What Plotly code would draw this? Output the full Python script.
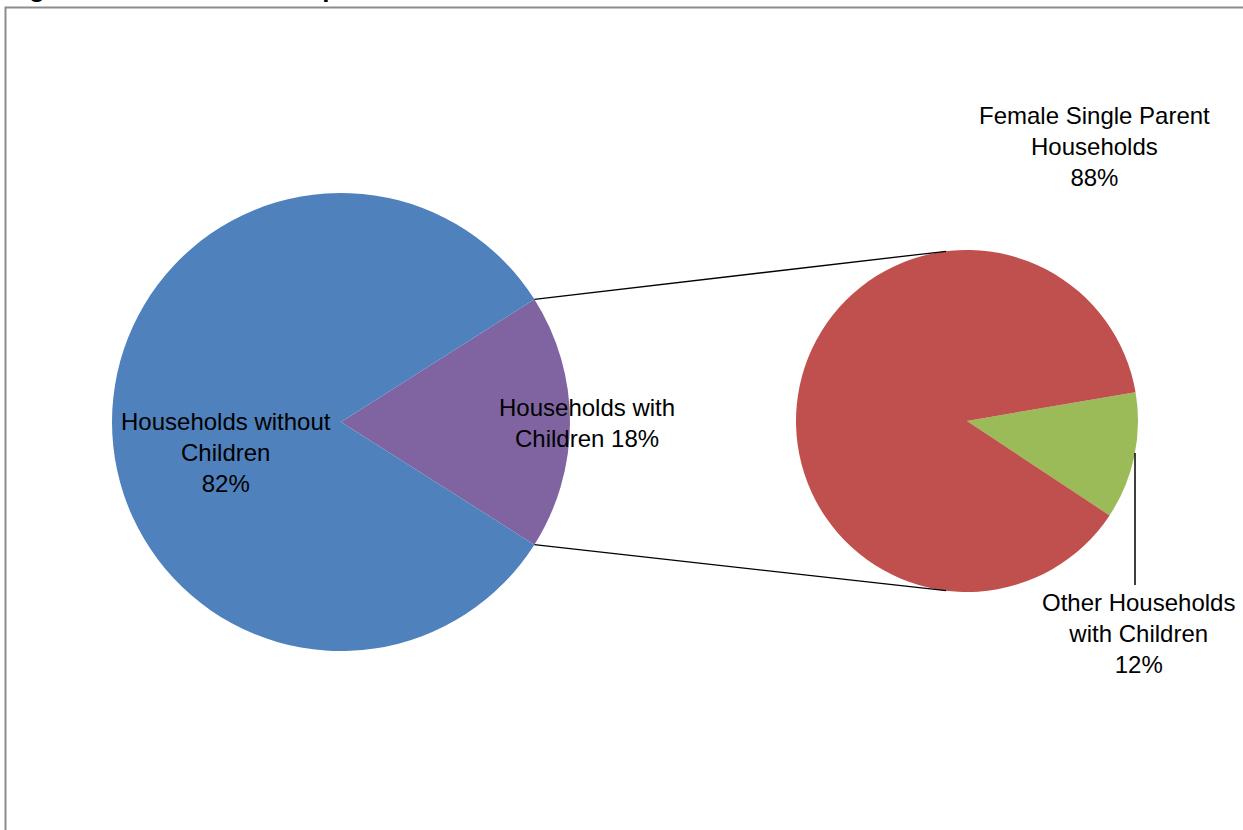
import math
import plotly.graph_objects as go

# ---- data ----
main_labels = ["Households with Children", "Households without Children"]
main_values = [18, 82]
sub_labels = ["Other Households with Children", "Female Single Parent Households"]
sub_values = [12, 88]
main_colors = ["#8064A2", "#4F81BD"]
sub_colors = ["#9BBB59", "#C0504D"]
title_text = "Figure 1: Household Composition"

W, H = 1243, 830
FONT = "Liberation Sans, Arial, sans-serif"

# pie geometry in pixels (center x, center y from top, radius)
L_CX, L_CY, L_R = 341, 422, 229
R_CX, R_CY, R_R = 967, 421, 171


def px(x):
    return x / W


def py(y):
    return 1 - y / H


def domain(cx, cy, r):
    return dict(x=[px(cx - r), px(cx + r)], y=[py(cy + r), py(cy - r)])


# main pie: first slice (with children) centred on 3 o'clock
half_main = main_values[0] / sum(main_values) * 360 / 2
main_rotation = 90 - half_main
# sub pie: small slice starting slightly above 3 o'clock
sub_start_deg = 9.7
sub_rotation = 90 - sub_start_deg

fig = go.Figure()
fig.add_trace(go.Pie(
    labels=main_labels, values=main_values, sort=False, direction="clockwise",
    rotation=main_rotation, marker=dict(colors=main_colors, line=dict(width=0)),
    textinfo="none", hoverinfo="label+percent", domain=domain(L_CX, L_CY, L_R),
    showlegend=False,
))
fig.add_trace(go.Pie(
    labels=sub_labels, values=sub_values, sort=False, direction="clockwise",
    rotation=sub_rotation, marker=dict(colors=sub_colors, line=dict(width=0)),
    textinfo="none", hoverinfo="label+percent", domain=domain(R_CX, R_CY, R_R),
    showlegend=False,
))

shapes = []
# connector lines from the main pie's small slice edges to the sub pie
for sgn in (1, -1):
    a = math.radians(half_main) * sgn
    x0 = L_CX + L_R * math.cos(a)
    y0 = L_CY - L_R * math.sin(a)
    b = math.radians(97) * sgn
    x1 = R_CX + R_R * math.cos(b)
    y1 = R_CY - R_R * math.sin(b)
    shapes.append(dict(type="line", xref="paper", yref="paper",
                       x0=px(x0), y0=py(y0), x1=px(x1), y1=py(y1),
                       line=dict(color="black", width=1.3)))

# leader line for the small slice of the sub pie
lead_x = 1135
dy = math.sqrt(R_R ** 2 - (lead_x - R_CX) ** 2)
shapes.append(dict(type="line", xref="paper", yref="paper",
                   x0=px(lead_x), y0=py(R_CY + dy), x1=px(lead_x), y1=py(585),
                   line=dict(color="black", width=1.5)))

# chart border
shapes.append(dict(type="rect", xref="paper", yref="paper",
                   x0=px(5.5), y0=py(H + 10), x1=px(W + 10), y1=py(7.5),
                   line=dict(color="#8c8c8c", width=2)))

pct = lambda v, vals: f"{round(100 * v / sum(vals))}%"

annotations = [
    dict(x=px(226), y=py(452), text="Households without<br>Children<br>" + pct(main_values[1], main_values)),
    dict(x=px(587), y=py(423), text="Households with<br>Children " + pct(main_values[0], main_values)),
    dict(x=px(1094), y=py(146), text="Female Single Parent<br>Households<br>" + pct(sub_values[1], sub_values)),
    dict(x=px(1138), y=py(633), text="Other Households<br>with Children<br>" + pct(sub_values[0], sub_values)),
]
for a in annotations:
    a.update(xref="paper", yref="paper", showarrow=False, xanchor="center", yanchor="middle",
             font=dict(family=FONT, size=24, color="black"), align="center")

annotations.append(dict(x=px(4), y=py(5), xref="paper", yref="paper", showarrow=False,
                        xanchor="left", yanchor="bottom", text="<b>" + title_text + "</b>",
                        font=dict(family=FONT, size=26, color="black")))

fig.update_layout(
    width=W, height=H, margin=dict(l=0, r=0, t=0, b=0),
    paper_bgcolor="white", plot_bgcolor="white",
    shapes=shapes, annotations=annotations,
)

fig.write_html("out.html", config={"displayModeBar": False},
               post_script="document.body.style.margin='0';")
